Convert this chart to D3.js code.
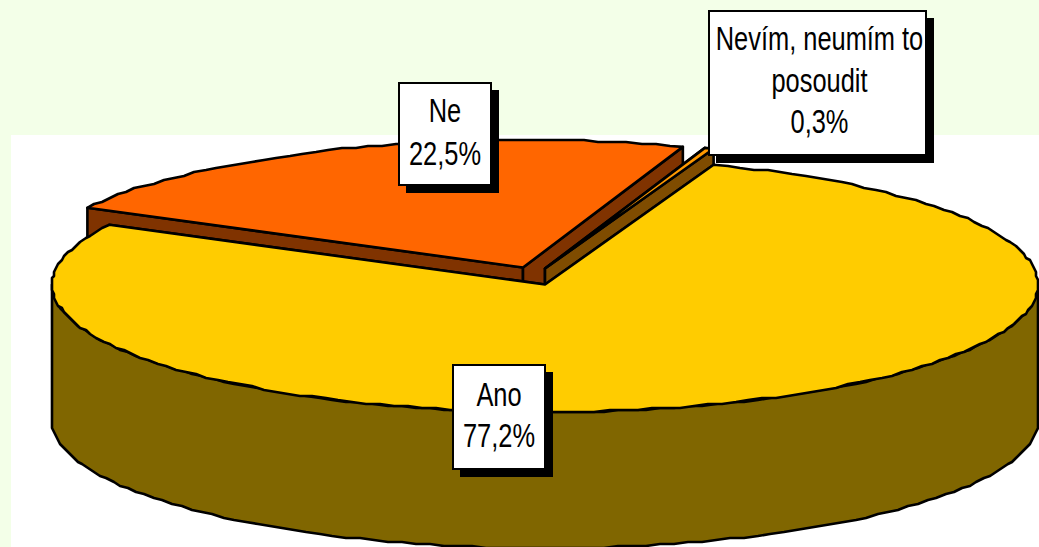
<!DOCTYPE html>
<html><head><meta charset="utf-8">
<script src="https://cdn.jsdelivr.net/npm/d3@7/dist/d3.min.js"></script>
<style>html,body{margin:0;padding:0;background:#f3ffe8;overflow:hidden}svg{display:block}
text{font-family:"Liberation Sans",Arial,sans-serif;font-size:33px;fill:#000;text-anchor:middle}</style>
</head><body><div id="c"></div>
<script>
const categories = ["Ano", "Ne", "Nevím, neumím to posoudit"];
const values = [77.2, 22.5, 0.3];
const valueLabels = ["77,2%", "22,5%", "0,3%"];
const topColors = ["#ffcc00", "#ff6600", "#ff9900"];
const sideColors = ["#806600", "#803300", "#7f4c00"];
const labelLines = [["Ano", "77,2%"], ["Ne", "22,5%"], ["Nevím, neumím to", "posoudit", "0,3%"]];

const W = 1039, H = 547, depth = 136;
const explode = [[0, 0], [-22, -17], [0, -16]];
const boxes = [[453, 365, 92, 104], [399, 83, 92, 102], [709, 11, 217, 144]];
const baselines = [[406, 447], [122, 165], [50, 92, 133]];

const svg = d3.select("#c").append("svg").attr("width", W).attr("height", H);
svg.append("rect").attr("x", 11).attr("y", 135).attr("width", W - 11).attr("height", H - 135).attr("fill", "#fff");

const x = d3.scaleLinear().domain([-1, 1]).range([52, 1038]);
const y = d3.scaleLinear().domain([-1, 1]).range([157, 412]);
const pie = d3.pie().sort(null).startAngle(20 * Math.PI / 180).endAngle(380 * Math.PI / 180);
const arcs = pie(values);

const snap = (v, g) => Math.round(v / g) * g;
function rim(a0, a1, dx, dy) {
  const n = Math.max(1, Math.ceil((a1 - a0) / (1.7 * Math.PI / 180)));
  return d3.range(n + 1).map(i => {
    const a = a0 + (a1 - a0) * i / n;
    const px = x(Math.sin(a)) + dx, py = y(-Math.cos(a)) + dy;
    const onEnd = i === 0 || i === n;
    return onEnd ? [px, py] : [snap(px, 2), snap(py, 2)];
  });
}
const line = d3.line();
const stroke = s => s.attr("stroke", "#000").attr("stroke-width", 2.6).attr("stroke-linejoin", "round");

function drawSlice(i) {
  const d = arcs[i], [dx, dy] = explode[i];
  const cx = x(0) + dx, cy = y(0) + dy;
  const r = rim(d.startAngle, d.endAngle, dx, dy);
  const g = svg.append("g");
  [r[0], r[r.length - 1]].forEach(p => {
    stroke(g.append("path").attr("d", line([[cx, cy], p, [p[0], p[1] + depth], [cx, cy + depth]]) + "Z").attr("fill", sideColors[i]));
  });
  const lo = Math.max(d.startAngle, Math.PI / 2), hi = Math.min(d.endAngle, 3 * Math.PI / 2);
  if (hi > lo) {
    const f = rim(lo, hi, dx, dy);
    const b = f.map(p => [p[0], p[1] + depth]).reverse();
    stroke(g.append("path").attr("d", line(f.concat(b)) + "Z").attr("fill", sideColors[i]));
  }
  stroke(g.append("path").attr("d", line([[cx, cy]].concat(r)) + "Z").attr("fill", topColors[i]));
}
[1, 2, 0].forEach(drawSlice);

[1, 2, 0].forEach(i => {
  const [bx, by, bw, bh] = boxes[i];
  svg.append("rect").attr("x", bx + 7).attr("y", by + 7).attr("width", bw + 1).attr("height", bh + 1).attr("fill", "#000");
  svg.append("rect").attr("x", bx).attr("y", by).attr("width", bw).attr("height", bh)
    .attr("fill", "#fff").attr("stroke", "#000").attr("stroke-width", 2);
  labelLines[i].forEach((t, j) => {
    svg.append("text").attr("transform", `translate(${bx + bw / 2 + (i === 2 ? 2 : 0)},${baselines[i][j]}) scale(0.77,1)`).text(t);
  });
});
</script></body></html>
